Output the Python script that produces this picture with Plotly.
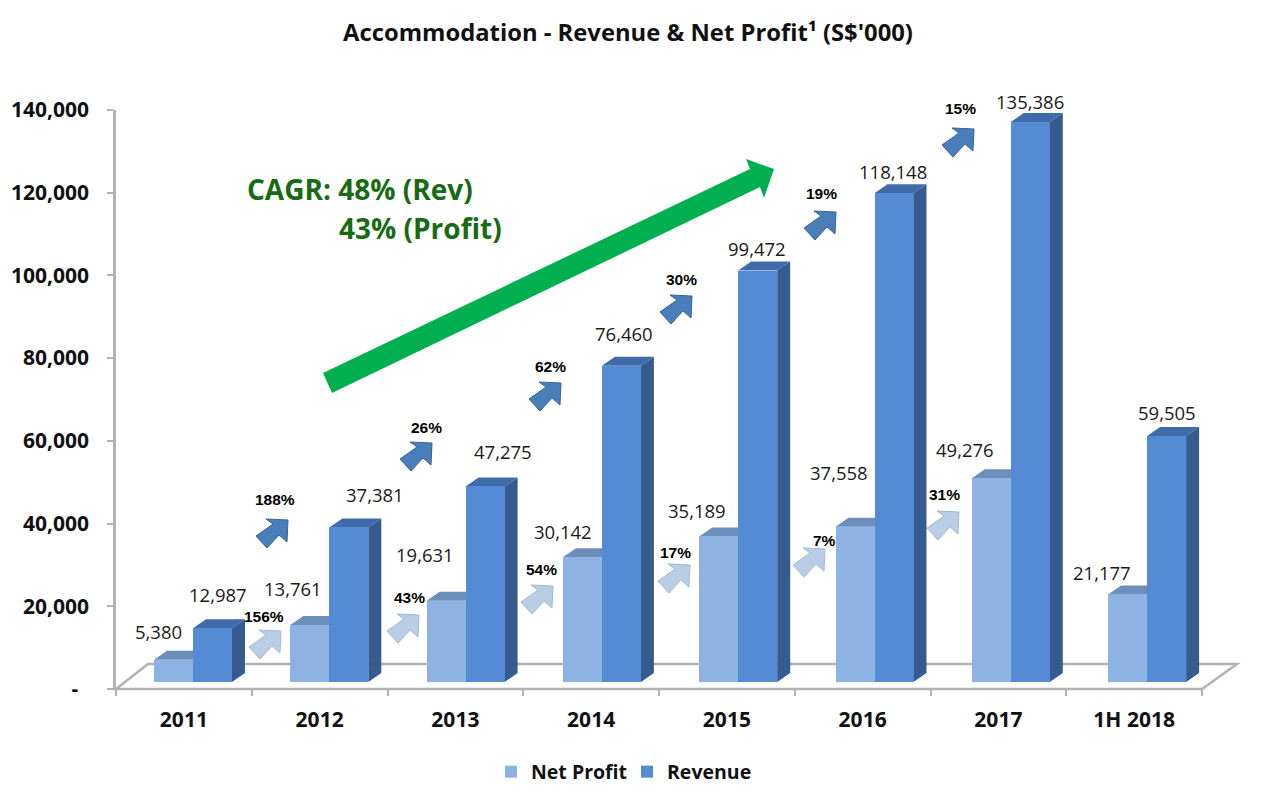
import plotly.graph_objects as go

categories = ["2011", "2012", "2013", "2014", "2015", "2016", "2017", "1H 2018"]
net_profit = [5380, 13761, 19631, 30142, 35189, 37558, 49276, 21177]
revenue = [12987, 37381, 47275, 76460, 99472, 118148, 135386, 59505]
revenue_growth = ["188%", "26%", "62%", "30%", "19%", "15%"]
profit_growth = ["156%", "43%", "54%", "17%", "7%", "31%"]
y_ticks = [0, 20000, 40000, 60000, 80000, 100000, 120000, 140000]
y_tick_labels = ["-\u00a0\u00a0", "20,000", "40,000", "60,000", "80,000", "100,000", "120,000", "140,000"]

# page-pixel geometry of the plot area (body margin of 8 px is allowed for)
PAGE = 8
AX_L, AX_R, AX_T, AX_B = 116, 1202, 110, 689
PX_PER_CAT = (AX_R - AX_L) / 8
PX_PER_UNIT = (AX_B - AX_T) / 140000


def X(px):
    return (px - AX_L) / PX_PER_CAT - 0.5


def DX(px):
    return px / PX_PER_CAT


def DY(px):
    return px / PX_PER_UNIT


def PX(px):
    return (px - AX_L) / (AX_R - AX_L)


def PY(py):
    return (AX_B - py) / (AX_B - AX_T)


BASE = DY(7)
BAR_W = DX(39)
NET_START = X(154)
BAR_STEP = DX(136.3)
DEPTH_X, DEPTH_Y = DX(13), DY(9)

NET_FRONT, NET_TOP = "#8db3e2", "#6c8ebb"
REV_FRONT, REV_TOP, REV_SIDE = "#558ad4", "#3f6ca8", "#355b8f"
GRID = "#b2b2b2"

net_left = [NET_START + i * BAR_STEP for i in range(len(categories))]
rev_left = [v + BAR_W for v in net_left]

fig = go.Figure()
fig.add_bar(name="Net Profit", x=categories, y=net_profit, base=[BASE] * 8, width=BAR_W,
            offset=[l - i for i, l in enumerate(net_left)], marker=dict(color=NET_FRONT, line_width=0))
fig.add_bar(name="Revenue", x=categories, y=revenue, base=[BASE] * 8, width=BAR_W,
            offset=[l - i for i, l in enumerate(rev_left)], marker=dict(color=REV_FRONT, line_width=0))


def poly(points):
    return "M " + " L ".join(f"{x:.5f},{y:.5f}" for x, y in points) + " Z"


def page_poly(points):
    return poly([(PX(a), PY(b)) for a, b in points])


shapes = []
# floor
shapes.append(dict(type="path", xref="paper", yref="paper", layer="below", line=dict(color=GRID, width=2.5),
                   fillcolor="white",
                   path=page_poly([(AX_L, AX_B), (AX_R, AX_B), (1237, 664), (148, 664)])))
# 3-D faces
for i in range(8):
    l, top = net_left[i], net_profit[i] + BASE
    shapes.append(dict(type="path", xref="x", yref="y", layer="below", line_width=0, fillcolor=NET_TOP,
                       path=poly([(l, top), (l + BAR_W, top), (l + BAR_W + DEPTH_X, top + DEPTH_Y),
                                  (l + DEPTH_X, top + DEPTH_Y)])))
    l, top = rev_left[i], revenue[i] + BASE
    r = l + BAR_W
    shapes.append(dict(type="path", xref="x", yref="y", layer="below", line_width=0, fillcolor=REV_TOP,
                       path=poly([(l, top), (r, top), (r + DEPTH_X, top + DEPTH_Y), (l + DEPTH_X, top + DEPTH_Y)])))
    shapes.append(dict(type="path", xref="x", yref="y", layer="below", line_width=0, fillcolor=REV_SIDE,
                       path=poly([(r, BASE), (r + DEPTH_X, BASE + DEPTH_Y), (r + DEPTH_X, top + DEPTH_Y), (r, top)])))

# small block arrows
ARROW = [(-16, 3), (-5, 15), (7, 2), (15, 9), (16, -13), (-6, -14), (1, -9)]
rev_arrows = [(272, 533), (416, 456), (545, 396), (676, 309), (820, 225), (958, 142)]
net_arrows = [(265, 644), (403, 628), (537, 599), (674, 578), (809, 562), (943, 525)]
rev_growth_pos = [(275, 500), (426, 427), (550, 366), (681, 279), (821, 194), (960, 108)]
net_growth_pos = [(264, 616), (409, 597), (541, 569), (675, 552), (824, 540), (944, 494)]


def block(cx, cy, fill, edge):
    return dict(type="path", xref="paper", yref="paper", layer="above", fillcolor=fill,
                line=dict(color=edge, width=1), path=page_poly([(cx + a, cy + b) for a, b in ARROW]))


for cx, cy in rev_arrows:
    shapes.append(block(cx, cy, "#4a7ebb", "#386397"))
for cx, cy in net_arrows:
    shapes.append(block(cx, cy, "#b9cde5", "#a0b9d8"))

# big green arrow
green = [(323, 373), (750, 169), (746, 159), (774, 169), (764, 198), (760, 187), (332, 393)]
shapes.append(dict(type="path", xref="paper", yref="paper", layer="above", fillcolor="#00b050", line_width=0,
                   path=page_poly(green)))

annotations = []
NET_OFF = [(-15.5, 28), (-17, 37), (-21, 46), (-19.5, 26), (-22, 25.5), (-16, 54), (-26, 29), (-26, 22)]
REV_OFF = [(5, 34), (26.5, 33), (18, 34.5), (2.5, 32), (-1, 22.6), (-1, 22), (0, 21), (0, 23)]
label_font = dict(size=18.5, color="#1a1a1a")
for i in range(8):
    annotations.append(dict(x=net_left[i] + BAR_W / 2, y=net_profit[i] + BASE, text=f"{net_profit[i]:,}",
                            xref="x", yref="y", showarrow=False, xshift=NET_OFF[i][0], yshift=NET_OFF[i][1],
                            xanchor="center", yanchor="middle", font=label_font))
    annotations.append(dict(x=rev_left[i] + BAR_W / 2, y=revenue[i] + BASE, text=f"{revenue[i]:,}",
                            xref="x", yref="y", showarrow=False, xshift=REV_OFF[i][0], yshift=REV_OFF[i][1],
                            xanchor="center", yanchor="middle", font=label_font))
for labels, spots in ((revenue_growth, rev_growth_pos), (profit_growth, net_growth_pos)):
    for t, (cx, cy) in zip(labels, spots):
        annotations.append(dict(x=PX(cx), y=PY(cy), text=f"<b>{t}</b>", xref="paper", yref="paper", showarrow=False,
                                xanchor="center", yanchor="middle",
                                font=dict(size=15.5, color="black", family="Liberation Sans")))
annotations.append(dict(x=PX(245), y=PY(189), text="<b>CAGR: 48% (Rev)</b>", xref="paper", yref="paper",
                        showarrow=False, xanchor="left", yanchor="middle", font=dict(size=28, color="#176b12")))
annotations.append(dict(x=PX(337), y=PY(228), text="<b>43% (Profit)</b>", xref="paper", yref="paper",
                        showarrow=False, xanchor="left", yanchor="middle", font=dict(size=28, color="#176b12")))

axis_font = dict(size=21, color="#111111", weight=700)
W, H = 1264 - 2 * PAGE, 794 - 2 * PAGE
fig.update_layout(
    width=W, height=H,
    margin=dict(l=AX_L - PAGE, r=W - (AX_R - PAGE), t=AX_T - PAGE, b=H - (AX_B - PAGE), autoexpand=False),
    paper_bgcolor="white", plot_bgcolor="white", barmode="overlay", bargap=0,
    font=dict(family="Open Sans"),
    title=dict(text="<b>Accommodation - Revenue &amp; Net Profit¹ (S$'000)</b>", x=(628 - PAGE) / W,
               xanchor="center", y=1 - (33 - PAGE) / H, yanchor="middle",
               font=dict(size=23.8, color="#111111")),
    xaxis=dict(type="category", categoryorder="array", categoryarray=categories, range=[-0.5, 7.5],
               tickson="boundaries", ticks="outside", ticklen=6, tickcolor=GRID, tickwidth=2,
               showline=False, showgrid=False, zeroline=False, tickfont=axis_font, ticklabelstandoff=16),
    yaxis=dict(range=[0, 140000], tickvals=y_ticks, ticktext=y_tick_labels, ticks="outside", ticklen=6,
               tickcolor=GRID, tickwidth=2, showline=True, linecolor=GRID, linewidth=2.5, showgrid=False,
               zeroline=False, tickfont=axis_font, ticklabelstandoff=14),
    legend=dict(orientation="h", x=PX(531 - 40), xanchor="left", y=PY(772), yanchor="middle",
                entrywidth=91, entrywidthmode="pixels",
                font=dict(size=19.5, color="#111111", weight=700), traceorder="normal"),
    shapes=shapes, annotations=annotations,
    hovermode=False,
)
fig.write_html("out.html")
